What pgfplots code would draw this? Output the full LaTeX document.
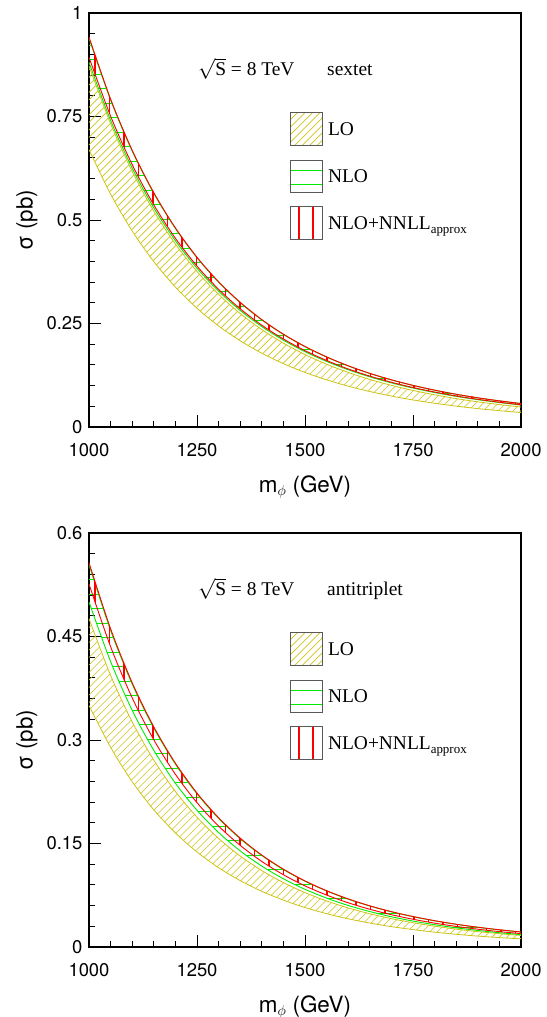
\documentclass[border=0pt]{standalone}
\usepackage{fontspec}
\setmainfont{Liberation Serif}
\newfontfamily\helv{TeX Gyre Heros}
\usepackage{pgfplots}
\usepackage{pgfplotstable}
\pgfplotsset{compat=1.18}
\usepgfplotslibrary{fillbetween}
\definecolor{loy}{RGB}{205,195,20}
\definecolor{nlog}{RGB}{0,235,0}
\definecolor{nnr}{rgb}{1,0,0}

\tikzset{
 legtxt/.style={font=\fontsize{19.5}{19.5}\selectfont, anchor=base west, inner sep=0pt},
 ttl/.style={font=\fontsize{19.5}{19.5}\selectfont, anchor=base west, inner sep=0pt},
 redhatch/.style={draw=nnr, color=nnr, line width=1.1bp},
}

\pgfplotstableread{
m lolo loup nlolo nloup nnlo nnup
1000 0.670 0.872 0.881 0.939 0.893 0.942
1050 0.5626 0.7326 0.7408 0.7896 0.7509 0.7921
1100 0.4734 0.6172 0.6252 0.6663 0.6337 0.6684
1150 0.3994 0.5214 0.5293 0.5642 0.5365 0.5660
1200 0.3380 0.4419 0.4498 0.4794 0.4559 0.4809
1250 0.2867 0.3757 0.3834 0.4087 0.3886 0.4100
1300 0.2440 0.3204 0.3281 0.3497 0.3326 0.3508
1350 0.2083 0.2741 0.2817 0.3002 0.2855 0.3012
1400 0.1782 0.2353 0.2426 0.2586 0.2459 0.2594
1450 0.1530 0.2025 0.2097 0.2235 0.2125 0.2242
1500 0.1318 0.1750 0.1819 0.1939 0.1844 0.1945
1550 0.1139 0.1516 0.1584 0.1688 0.1606 0.1694
1600 0.0986 0.1318 0.1383 0.1474 0.1402 0.1479
1650 0.0857 0.1149 0.1212 0.1292 0.1229 0.1296
1700 0.0747 0.1006 0.1066 0.1136 0.1081 0.1140
1750 0.0653 0.0883 0.0941 0.1003 0.0954 0.1006
1800 0.0573 0.0778 0.0833 0.0888 0.0845 0.0891
1850 0.0504 0.0686 0.0740 0.0789 0.0750 0.0791
1900 0.0444 0.0608 0.0660 0.0703 0.0669 0.0706
1950 0.0394 0.0542 0.0591 0.0630 0.0599 0.0632
2000 0.0349 0.0483 0.0530 0.0565 0.0538 0.0567
}\sextet

\pgfplotstableread{
m lolo loup nlolo nloup nnlo nnup
1000 0.350 0.476 0.500 0.554 0.526 0.557
1050 0.2894 0.3937 0.4137 0.4588 0.4353 0.4612
1100 0.2396 0.3263 0.3430 0.3810 0.3611 0.3830
1150 0.1988 0.2709 0.2850 0.3173 0.3003 0.3190
1200 0.1653 0.2255 0.2374 0.2650 0.2503 0.2664
1250 0.1377 0.1881 0.1982 0.2219 0.2092 0.2231
1300 0.1149 0.1573 0.1659 0.1863 0.1752 0.1873
1350 0.0962 0.1319 0.1393 0.1569 0.1473 0.1578
1400 0.0807 0.1108 0.1172 0.1325 0.1240 0.1332
1450 0.0679 0.0934 0.0989 0.1122 0.1047 0.1128
1500 0.0572 0.0788 0.0836 0.0953 0.0886 0.0958
1550 0.0483 0.0667 0.0709 0.0812 0.0753 0.0816
1600 0.0409 0.0566 0.0602 0.0693 0.0641 0.0697
1650 0.0347 0.0482 0.0514 0.0594 0.0547 0.0597
1700 0.0295 0.0411 0.0438 0.0510 0.0468 0.0512
1750 0.0252 0.0352 0.0376 0.0439 0.0402 0.0442
1800 0.0215 0.0302 0.0323 0.0379 0.0346 0.0382
1850 0.0184 0.0259 0.0278 0.0329 0.0298 0.0330
1900 0.0158 0.0223 0.0240 0.0285 0.0258 0.0287
1950 0.0136 0.0193 0.0207 0.0248 0.0223 0.0250
2000 0.0118 0.0167 0.0180 0.0217 0.0194 0.0218
}\antitriplet

\pgfplotsset{myax/.style={
  scale only axis, width=432bp, height=414bp,
  xmin=1000, xmax=2000,
  axis line style={line width=1.1bp, black},
  tick pos=left, tick align=inside,
  major tick length=12bp, minor tick length=6bp,
  tick style={black, line width=0.9bp},
  xtick={1000,1250,1500,1750,2000},
  xticklabels={1000,1250,1500,1750,2000},
  minor x tick num=4, minor y tick num=4,
  ticklabel style={font=\helv\fontsize{18.5}{18.5}\selectfont},
  xticklabel style={yshift=-13bp},
  yticklabel style={xshift=-3bp},
  xlabel={m$_{\phi}$ (GeV)}, ylabel={σ (pb)},
  label style={font=\helv\fontsize{22.5}{22.5}\selectfont},
  xlabel style={at={(axis description cs:0.5,-0.159)}, anchor=base},
  ylabel style={at={(axis description cs:-0.1435,0.5)}, anchor=center},
}}

\newcommand{\bands}[1]{%
  % LO band: diagonal yellow hatching
  \addplot[name path=lolo, loy, line width=0.8bp, smooth] table[x=m,y=lolo]{#1};
  \addplot[name path=loup, loy, line width=0.8bp, smooth] table[x=m,y=loup]{#1};
  \begin{scope}
    \clip[intersection segments={of=lolo and loup, sequence={L* -- R*[reverse]}}];
    \draw[loy, line width=0.7bp] \foreach \i in {0,...,125}{([xshift=\i*7.5bp]rel axis cs:-1,0) -- ([xshift=\i*7.5bp+430bp, yshift=430bp]rel axis cs:-1,0)};
  \end{scope}
  % NLO band: horizontal green hatching
  \addplot[name path=nlolo, nlog, line width=0.9bp, smooth] table[x=m,y=nlolo]{#1};
  \addplot[name path=nloup, nlog, line width=0.9bp, smooth] table[x=m,y=nloup]{#1};
  \begin{scope}
    \clip[intersection segments={of=nlolo and nloup, sequence={L* -- R*[reverse]}}];
    \draw[nlog, line width=0.9bp] \foreach \i in {0,...,29}{([yshift=\i*14.5bp+5bp]rel axis cs:0,0) -- ([yshift=\i*14.5bp+5bp]rel axis cs:1,0)};
  \end{scope}
  % NLO+NNLL band: vertical red hatching
  \addplot[name path=nnlo, nnr, line width=0.9bp, smooth] table[x=m,y=nnlo]{#1};
  \addplot[name path=nnup, nnr, line width=0.9bp, smooth] table[x=m,y=nnup]{#1};
  \begin{scope}
    \clip[intersection segments={of=nnlo and nnup, sequence={L* -- R*[reverse]}}];
    \draw[redhatch] \foreach \i in {0,...,30}{([xshift=\i*14.5bp+6bp]rel axis cs:0,0) -- ([xshift=\i*14.5bp+6bp]rel axis cs:0,1)};
  \end{scope}
}

\newcommand{\legendboxes}{%
  \begin{scope}
    \clip (rel axis cs:0.4653,0.759) rectangle (rel axis cs:0.5394,0.6795);
    \draw[loy, line width=0.7bp] \foreach \i in {0,...,9}{([xshift=\i*7.5bp-33bp]rel axis cs:0.4653,0.6795) -- ([xshift=\i*7.5bp+3bp, yshift=36bp]rel axis cs:0.4653,0.6795)};
  \end{scope}
  \draw[black!65, line width=1bp] (rel axis cs:0.4653,0.759) rectangle (rel axis cs:0.5394,0.6795);
  \node[legtxt] at (rel axis cs:0.553,0.7035) {LO};
  \draw[nlog, line width=0.9bp] ([yshift=-10bp]rel axis cs:0.4653,0.6434) -- ([yshift=-10bp]rel axis cs:0.5394,0.6434)
        ([yshift=-24bp]rel axis cs:0.4653,0.6434) -- ([yshift=-24bp]rel axis cs:0.5394,0.6434);
  \draw[black!65, line width=1bp] (rel axis cs:0.4653,0.6434) rectangle (rel axis cs:0.5394,0.5663);
  \node[legtxt] at (rel axis cs:0.553,0.5895) {NLO};
  \draw[redhatch] ([xshift=9bp]rel axis cs:0.4653,0.5325) -- ([xshift=9bp]rel axis cs:0.4653,0.4530)
        ([xshift=23bp]rel axis cs:0.4653,0.5325) -- ([xshift=23bp]rel axis cs:0.4653,0.4530);
  \draw[black!65, line width=1bp] (rel axis cs:0.4653,0.5325) rectangle (rel axis cs:0.5394,0.4530);
  \node[legtxt] at (rel axis cs:0.553,0.4775) {NLO+NNLL\raisebox{-4bp}{\fontsize{13}{13}\selectfont approx}};
}

\begin{document}
\begin{tikzpicture}
\begin{axis}[myax, at={(0,520bp)}, anchor=south west,
  ymin=0, ymax=1, ytick={0,0.25,0.5,0.75,1}, yticklabels={0,0.25,0.5,0.75,1}]
  \bands{\sextet}
  \legendboxes
  \node[ttl] at (rel axis cs:0.252,0.848) {$\sqrt{\mbox{S}}$ = 8 TeV};
  \node[ttl] at (rel axis cs:0.551,0.848) {sextet};
\end{axis}
\begin{axis}[myax, at={(0,0)}, anchor=south west,
  ymin=0, ymax=0.6, ytick={0,0.15,0.3,0.45,0.6}, yticklabels={0,0.15,0.3,0.45,0.6}]
  \bands{\antitriplet}
  \legendboxes
  \node[ttl] at (rel axis cs:0.252,0.848) {$\sqrt{\mbox{S}}$ = 8 TeV};
  \node[ttl] at (rel axis cs:0.551,0.848) {antitriplet};
\end{axis}
\pgfresetboundingbox
\path[use as bounding box] (-89bp,-70bp) rectangle (458bp,947bp);
\end{tikzpicture}
\end{document}
